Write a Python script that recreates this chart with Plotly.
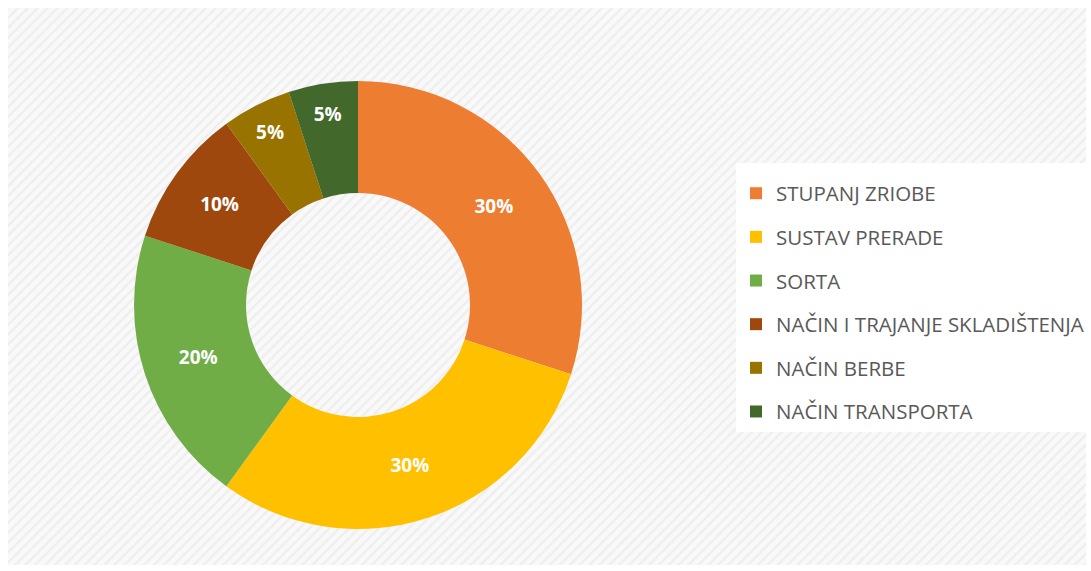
import plotly.graph_objects as go

categories = ["STUPANJ ZRIOBE", "SUSTAV PRERADE", "SORTA",
              "NAČIN I TRAJANJE SKLADIŠTENJA", "NAČIN BERBE", "NAČIN TRANSPORTA"]
values = [30, 30, 20, 10, 5, 5]
colors = ["#ED7D31", "#FFC000", "#70AD47", "#9E480E", "#997300", "#43682B"]

W, H = 1091, 571

fig = go.Figure()

# hatched background
fig.add_trace(go.Scatter(
    x=[0, 1, 1, 0, 0], y=[0, 0, 1, 1, 0], mode="lines", fill="toself",
    line=dict(width=0), fillcolor="#f4f4f4",
    fillpattern=dict(shape="/", fgcolor="#e4e4e4", bgcolor="#f9f9f9", size=7, solidity=0.35),
    hoverinfo="skip", showlegend=False))

fig.add_trace(go.Pie(
    labels=categories, values=values, hole=0.5, sort=False, direction="clockwise",
    rotation=0, marker=dict(colors=colors, line=dict(width=0)),
    textinfo="percent", textposition="inside", insidetextorientation="horizontal",
    textfont=dict(family="Open Sans", size=19, color="white", weight="bold"),
    domain=dict(x=[134 / W, 582 / W], y=[1 - 529 / H, 1 - 81 / H]),
    showlegend=False))

for i, (c, col) in enumerate(zip(categories, colors)):
    fig.add_trace(go.Scatter(
        x=[None], y=[None], mode="markers", name=c, legendgroup=str(i),
        marker=dict(symbol="square", size=12, color=col)))

fig.update_layout(
    width=W, height=H, margin=dict(l=0, r=0, t=0, b=0),
    paper_bgcolor="white", plot_bgcolor="white",
    xaxis=dict(domain=[8 / W, 1086 / W], range=[0, 1], visible=False, fixedrange=True),
    yaxis=dict(domain=[6 / H, 1 - 8 / H], range=[0, 1], visible=False, fixedrange=True),
    legend=dict(x=736 / W, y=1 - 163 / H, xanchor="left", yanchor="top",
                bgcolor="white", tracegroupgap=14,
                title=dict(text="&nbsp;", font=dict(size=8)),
                font=dict(family="Open Sans", size=20.5, color="#595959"),
                itemwidth=30),
)

fig.write_html("out.html", config={"displayModeBar": False},
               post_script="document.body.style.margin='0';")
